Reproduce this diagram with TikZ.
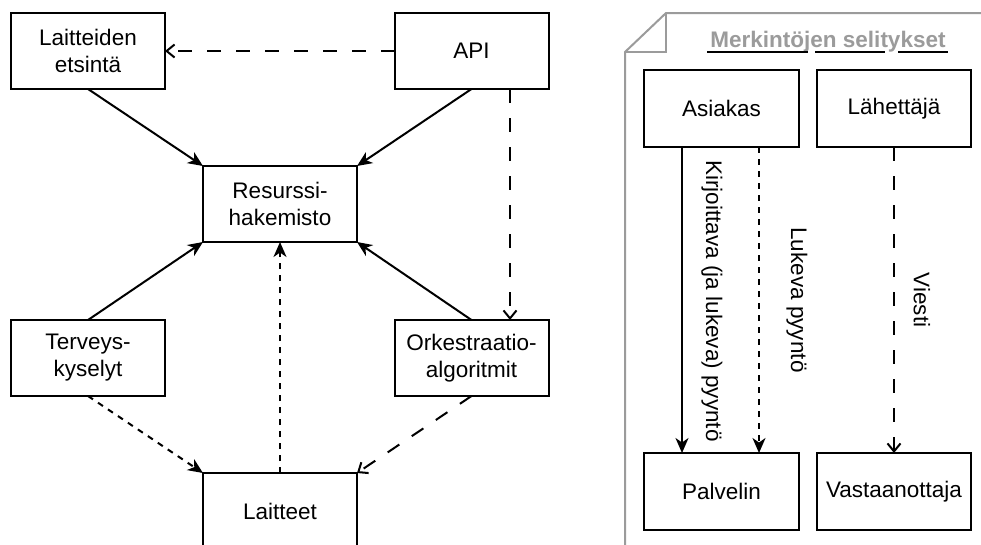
\documentclass[tikz,border=0pt]{standalone}
\usepackage{fontspec}
\setmainfont{Liberation Sans}
\usetikzlibrary{arrows.meta,calc}
\definecolor{legendgray}{RGB}{155,155,155}
\tikzset{
  box/.style={draw, line width=2pt, fill=white, minimum width=154pt, minimum height=76pt,
    inner sep=0pt, outer sep=0pt, align=center, font=\fontsize{22.5}{27}\selectfont},
  conn/.style={line width=2pt},
  filledtip/.style={-{Stealth[length=15pt,width=13pt,inset=4.5pt]}},
  opentip/.style={-{Straight Barb[length=8pt,width=13pt,line width=2pt]}},
  longdash/.style={dash pattern=on 14pt off 15pt},
  shortdash/.style={dash pattern=on 6pt off 6pt},
  vlabel/.style={rotate=-90, font=\fontsize{22.5}{27}\selectfont, inner sep=0pt}
}
\begin{document}
\begin{tikzpicture}[x=1pt,y=-1pt]
\useasboundingbox (0,0) rectangle (981,544);
\clip (0,0) rectangle (981,544);

% architecture nodes
\node[box] (etsinta)  at (88,51)    {Laitteiden\\etsintä};
\node[box] (api)      at (471.5,51) {API};
\node[box] (resurssi) at (280,204)  {Resurssi-\\hakemisto};
\node[box] (terveys)  at (88,358)   {Terveys-\\kyselyt};
\node[box] (orkes)    at (471.5,358){Orkestraatio-\\algoritmit};
\node[box] (laitteet) at (280,511)  {Laitteet};

% connectors
\draw[conn,filledtip] (etsinta.south) -- (resurssi.north west);
\draw[conn,filledtip] (api.south) -- (resurssi.north east);
\draw[conn,filledtip] (terveys.north) -- (resurssi.south west);
\draw[conn,filledtip] (orkes.north) -- (resurssi.south east);
\draw[conn,longdash,opentip] (api.west) -- (etsinta.east);
\draw[conn,longdash,opentip] ([xshift=38.5pt]api.south) -- ([xshift=38.5pt]orkes.north);
\draw[conn,shortdash,filledtip] (laitteet.north) -- (resurssi.south);
\draw[conn,shortdash,filledtip] (terveys.south) -- (laitteet.north west);
\draw[conn,longdash,opentip] (orkes.south) -- (laitteet.north east);

% legend sheet with folded corner
\draw[legendgray, line width=2pt, fill=white, line join=miter]
  (625,52) -- (666,13) -- (1000,13) -- (1000,570) -- (625,570) -- cycle;
\draw[legendgray, line width=2pt] (666,13) -- (666,52) -- (625,52);
\node[anchor=base, text=legendgray, font=\fontsize{22.5}{27}\selectfont\bfseries, inner sep=0pt]
  (title) at (828,47) {Merkintöjen selitykset};
\draw[line width=2pt] (707,52) -- (808,52) (815,52) -- (885,52) (898,52) -- (948,52);

\node[box, minimum width=155pt, minimum height=77pt] (asiakas)   at (721.5,108.5) {Asiakas};
\node[box, minimum width=154pt, minimum height=77pt] (lahettaja) at (894,108.5)   {Lähettäjä};
\node[box, minimum width=155pt, minimum height=77pt] (palvelin)  at (721.5,491.5) {Palvelin};
\node[box, minimum width=154pt, minimum height=77pt] (vastaan)   at (894,491.5)   {Vastaanottaja};

\draw[conn,filledtip] ([xshift=-39.5pt]asiakas.south) -- ([xshift=-39.5pt]palvelin.north);
\draw[conn,shortdash,filledtip] ([xshift=37.5pt]asiakas.south) -- ([xshift=37.5pt]palvelin.north);
\draw[conn,longdash,opentip] (lahettaja.south) -- (vastaan.north);

\node[vlabel] (kirj)   at (712,301) {Kirjoittava (ja lukeva) pyyntö};
\node[vlabel] (lukeva) at (797,300) {Lukeva pyyntö};
\node[vlabel] (viesti) at (922,300) {Viesti};
\end{tikzpicture}
\end{document}
